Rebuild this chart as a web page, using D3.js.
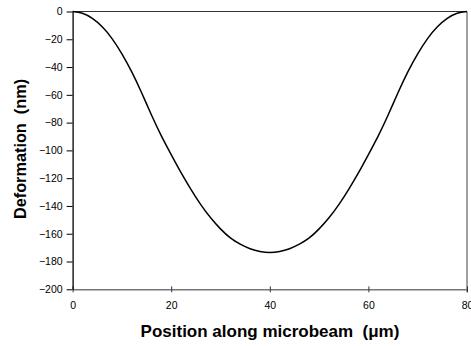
<!DOCTYPE html>
<html>
<head>
<meta charset="utf-8">
<script src="https://cdn.jsdelivr.net/npm/d3@7"></script>
<style>
    body { margin: 0; background: #fff; }
    svg { display: block; }
    text { font-family: "Liberation Sans", Arial, sans-serif; white-space: pre; }
</style>
</head>
<body>
<div id="chart"></div>
<script>
// position along the beam (um)
const positions = [0, 2, 4, 6, 8, 10, 12, 14, 16, 18, 20, 22, 24, 26, 28, 30, 32, 34, 36, 38, 40,
    42, 44, 46, 48, 50, 52, 54, 56, 58, 60, 62, 64, 66, 68, 70, 72, 74, 76, 78, 80];
// deformation (nm)
const deformation = [0, -1.3, -5, -11, -19.5, -30.5, -43.5, -58.5, -74.5, -89.5, -103, -116, -128, -139, -148.5, -156.5, -163, -167.5, -170.8, -172.8, -173.5,
    -172.8, -170.8, -167.5, -163, -156.5, -148.5, -139, -128, -116, -103, -89.5, -74.5, -58.5, -43.5, -30.5, -19.5, -11, -5, -1.3, 0];

const xTicks = [0, 20, 40, 60, 80];
const yTicks = [0, -20, -40, -60, -80, -100, -120, -140, -160, -180, -200];

const width = 471
const height = 346
const margin = { top: 11.5, right: 4, bottom: 56.7, left: 72.6 }

const svg = d3.select("#chart")
    .append("svg")
    .attr("width", width)
    .attr("height", height)

const x = d3.scaleLinear()
    .domain([0, 80])
    .range([margin.left, width - margin.right])

const y = d3.scaleLinear()
    .domain([-200, 0])
    .range([height - margin.bottom, margin.top])

// frame: top and right edges
svg.append("line")
    .attr("x1", x(0)).attr("x2", x(80))
    .attr("y1", y(0)).attr("y2", y(0))
    .attr("stroke", "#333")
    .attr("stroke-width", 1)
svg.append("line")
    .attr("x1", x(80)).attr("x2", x(80))
    .attr("y1", y(0)).attr("y2", y(-200) + 3)
    .attr("stroke", "#808080")
    .attr("stroke-width", 1.5)

// x axis (ticks cross the line)
const xAxis = svg.append("g")
    .attr("transform", `translate(0, ${y(-200)})`)
    .call(d3.axisBottom(x).tickValues(xTicks).tickSizeInner(3).tickSizeOuter(0).tickPadding(9))
xAxis.select(".domain").attr("stroke", "#777").attr("stroke-width", 1.5)
xAxis.selectAll(".tick line").attr("y1", -3).attr("stroke", "#333")
xAxis.selectAll("text")
    .style("font-size", "10.5px")
    .attr("fill", "#000")

// y axis
const yAxis = svg.append("g")
    .attr("transform", `translate(${x(0)}, 0)`)
    .call(d3.axisLeft(y).tickValues(yTicks).tickSizeInner(6).tickSizeOuter(0).tickPadding(4))
yAxis.select(".domain").attr("stroke", "#000").attr("stroke-width", 1.3)
yAxis.selectAll(".tick line").attr("stroke", "#000")
yAxis.selectAll("text")
    .style("font-size", "10.5px")
    .attr("fill", "#000")

// the deformation curve
const line = d3.line()
    .x((d, i) => x(positions[i]))
    .y(d => y(d))
    .curve(d3.curveNatural)

svg.append("path")
    .datum(deformation)
    .attr("d", line)
    .attr("fill", "none")
    .attr("stroke", "#000")
    .attr("stroke-width", 1.5)

// axis titles
svg.append("text")
    .attr("x", 270)
    .attr("y", 337)
    .attr("text-anchor", "middle")
    .style("font-size", "17px")
    .style("font-weight", "bold")
    .text("Position along microbeam  (\u03bcm)")

svg.append("text")
    .attr("transform", `translate(26, 149) rotate(-90)`)
    .attr("text-anchor", "middle")
    .style("font-size", "16.3px")
    .style("font-weight", "bold")
    .text("Deformation  (nm)")
</script>
</body>
</html>
